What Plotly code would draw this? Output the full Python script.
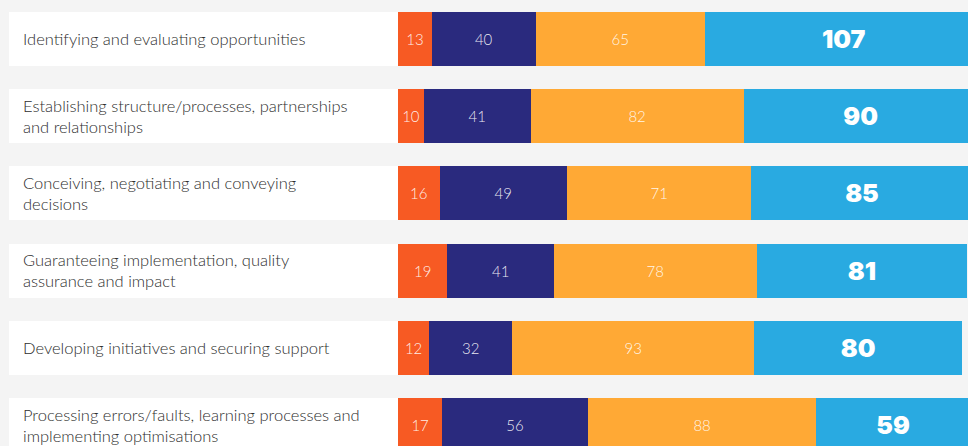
import plotly.graph_objects as go

categories = [
    "Identifying and evaluating opportunities",
    "Establishing structure/processes, partnerships<br>and relationships",
    "Conceiving, negotiating and conveying<br>decisions",
    "Guaranteeing implementation, quality<br>assurance and impact",
    "Developing initiatives and securing support",
    "Processing errors/faults, learning processes and<br>implementing optimisations",
]
keys = [f"c{i}" for i in range(len(categories))]

series_1 = [13, 10, 16, 19, 12, 17]
series_2 = [40, 41, 49, 41, 32, 56]
series_3 = [65, 82, 71, 78, 93, 88]
series_4 = [107, 90, 85, 81, 80, 59]
label_box = [1, 1, 1, 1, 1, 1]

colors = ["#F75A23", "#2A2A7E", "#FFA935", "#29AAE1"]
W, H = 968, 446

fig = go.Figure()

# white label boxes
fig.add_trace(go.Bar(
    y=keys, x=label_box, orientation="h", xaxis="x2", yaxis="y",
    marker=dict(color="#FFFFFF", line=dict(width=0)),
    hoverinfo="skip", showlegend=False,
))

thin_font = dict(family="Lato", size=15, color="rgba(255,255,255,0.9)", weight=300)
bold_font = dict(family="Inter", size=25, color="#FFFFFF", weight=900)

for vals, col, fnt in zip([series_1, series_2, series_3, series_4], colors,
                          [thin_font, thin_font, thin_font, bold_font]):
    fig.add_trace(go.Bar(
        y=keys, x=vals, orientation="h", xaxis="x", yaxis="y",
        marker=dict(color=col, line=dict(width=0)),
        text=[str(v) for v in vals], textposition="inside",
        insidetextanchor="middle", constraintext="none",
        textfont=fnt, showlegend=False,
    ))

annotations = []
for k, lab in zip(keys, categories):
    annotations.append(dict(
        x=21 / W, xref="paper", y=k, yref="y", text=lab, showarrow=False,
        xanchor="left", yanchor="middle", align="left",
        font=dict(family="Lato", size=16.5, color="#2E2E2E", weight=300),
    ))

fig.update_layout(
    width=W, height=H,
    margin=dict(l=0, r=0, t=0, b=0),
    paper_bgcolor="#F4F4F4", plot_bgcolor="rgba(0,0,0,0)",
    barmode="stack", bargap=0.3,
    xaxis=dict(domain=[398 / W, 1], range=[0, 219.3], visible=False, fixedrange=True),
    xaxis2=dict(domain=[9 / W, 398 / W], range=[0, 1], visible=False, anchor="y"),
    yaxis=dict(categoryorder="array", categoryarray=keys,
               range=[5.272, -0.505], visible=False),
    annotations=annotations,
    showlegend=False,
)

fig.write_html("out.html")
